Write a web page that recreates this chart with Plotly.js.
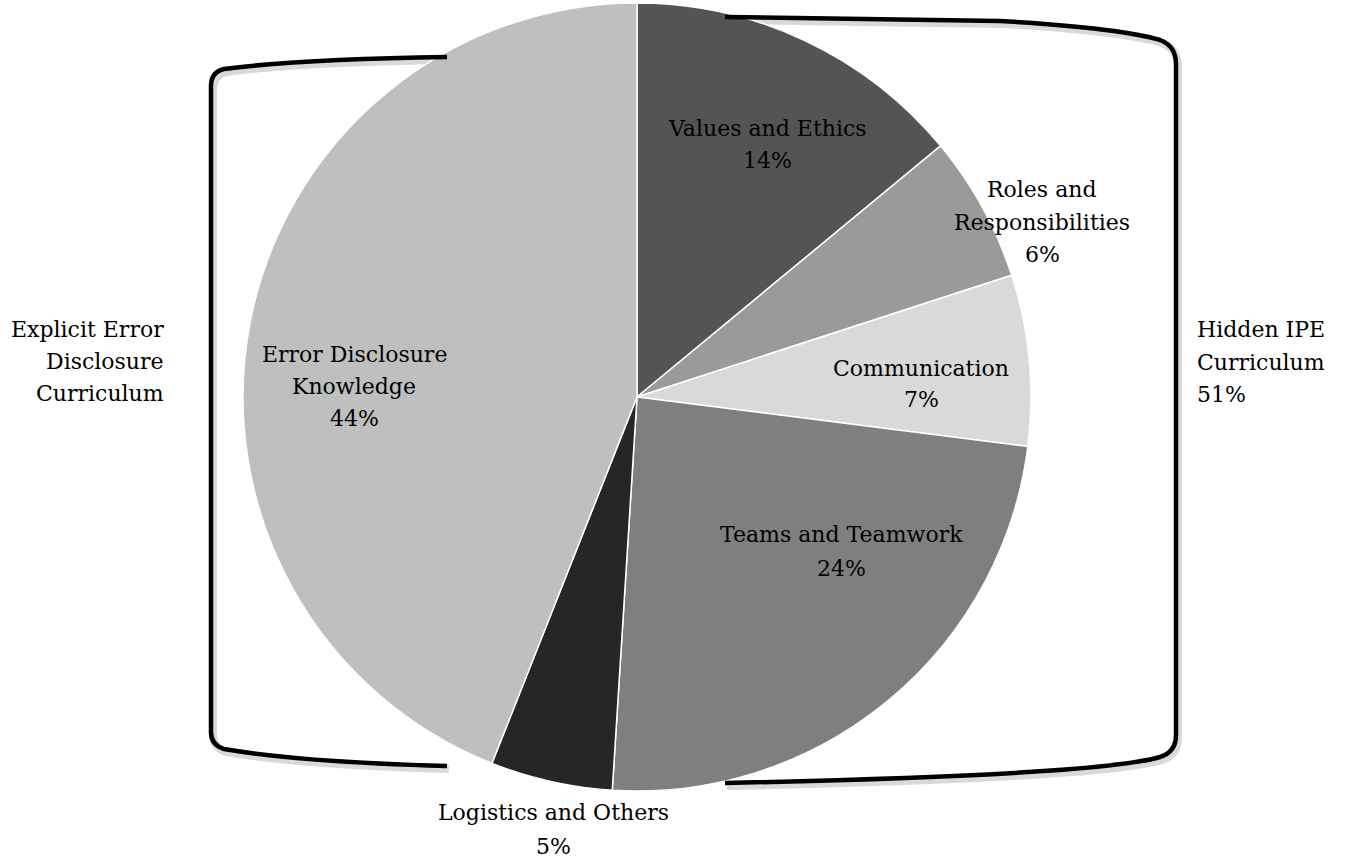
<!DOCTYPE html>
<html>
<head>
<meta charset="utf-8">
<script src="https://cdn.plot.ly/plotly-3.0.1.min.js"></script>
<style>html,body{margin:0;padding:0;background:#fff;}#chart{width:1345px;height:861px;}</style>
</head>
<body>
<div id="chart"></div>
<script>
// ---- data ----
const categories = ["Values and Ethics", "Roles and Responsibilities", "Communication", "Teams and Teamwork", "Logistics and Others", "Error Disclosure Knowledge"];
const labelLines = [["Values and Ethics"], ["Roles and", "Responsibilities"], ["Communication"], ["Teams and Teamwork"], ["Logistics and Others"], ["Error Disclosure", "Knowledge"]];
const percents = [14, 6, 7, 24, 5, 44];
const sliceColors = ["#545454", "#9a9a9a", "#d9d9d9", "#7f7f7f", "#262626", "#bfbfbf"];
const hiddenGroup = ["Values and Ethics", "Roles and Responsibilities", "Communication", "Teams and Teamwork"];
const hiddenLines = ["Hidden IPE", "Curriculum"];
const explicitLines = ["Explicit Error", "Disclosure", "Curriculum"];

// ---- layout helpers ----
const W = 1345, H = 861;
const FONT = {family: "DejaVu Serif, serif", size: 22, color: "#000"};
const px = x => x / W;
const py = y => 1 - y / H;

// label anchor positions (pixel centres, first line) and line pitch
const labelPos = [
  {x: 767, y: 128, dy: 32},
  {x: 1042, y: 190, dy: 32},
  {x: 921, y: 368, dy: 32},
  {x: 841, y: 534, dy: 34},
  {x: 553, y: 812, dy: 34},
  {x: 354, y: 355, dy: 31.5}
];

const annotations = [];
categories.forEach((c, i) => {
  const lines = labelLines[i].concat([percents[i] + "%"]);
  lines.forEach((t, k) => {
    annotations.push({
      xref: "paper", yref: "paper",
      x: px(labelPos[i].x), y: py(labelPos[i].y + k * labelPos[i].dy),
      xanchor: "center", yanchor: "middle",
      text: t, showarrow: false, font: FONT
    });
  });
});
const hiddenTotal = categories.reduce((s, c, i) => s + (hiddenGroup.includes(c) ? percents[i] : 0), 0);
hiddenLines.concat([hiddenTotal + "%"]).forEach((t, k) => {
  annotations.push({xref: "paper", yref: "paper", x: px(1195), y: py(330 + k * 32),
    xanchor: "left", yanchor: "middle", text: t, showarrow: false, font: FONT});
});
explicitLines.forEach((t, k) => {
  annotations.push({xref: "paper", yref: "paper", x: px(166), y: py(330 + k * 31.5),
    xanchor: "right", yanchor: "middle", text: t, showarrow: false, font: FONT});
});

const leftBracket = "M 447 57 Q 300 59 224 69 Q 211 72 211 86 L 211 732 Q 211 745 224 749 Q 300 762 447 766";
const rightBracket = "M 725 17 L 1000 21 Q 1120 28 1160 40 Q 1176 46 1176 64 L 1176 735 Q 1176 752 1160 757 Q 1100 775 725 783";
const shadow = p => ({type: "path", xref: "x", yref: "y", path: p, line: {color: "rgba(0,0,0,0.15)", width: 8}, layer: "below"});
const bracket = p => ({type: "path", xref: "x", yref: "y", path: p, line: {color: "#000", width: 4.5}});
const shift = p => p.replace(/(\d+) (\d+)/g, (m, a, b) => (+a + 2) + " " + (+b + 3));

const cx = 637, cy = 397, r = 394;
const trace = {
  type: "pie",
  labels: categories,
  values: percents,
  marker: {colors: sliceColors, line: {color: "#ffffff", width: 1.5}},
  sort: false,
  direction: "clockwise",
  rotation: 0,
  textinfo: "none",
  hoverinfo: "label+percent",
  showlegend: false,
  domain: {x: [px(cx - r), px(cx + r)], y: [py(cy + r), py(cy - r)]}
};

const layout = {
  width: W, height: H,
  margin: {l: 0, r: 0, t: 0, b: 0},
  paper_bgcolor: "#fff", plot_bgcolor: "rgba(0,0,0,0)",
  xaxis: {range: [0, W], visible: false, fixedrange: true},
  yaxis: {range: [H, 0], visible: false, fixedrange: true},
  shapes: [shadow(shift(leftBracket)), shadow(shift(rightBracket)),
           bracket(leftBracket), bracket(rightBracket)],
  annotations: annotations
};

Plotly.newPlot("chart", [trace], layout, {displayModeBar: false, staticPlot: true});
</script>
</body>
</html>
